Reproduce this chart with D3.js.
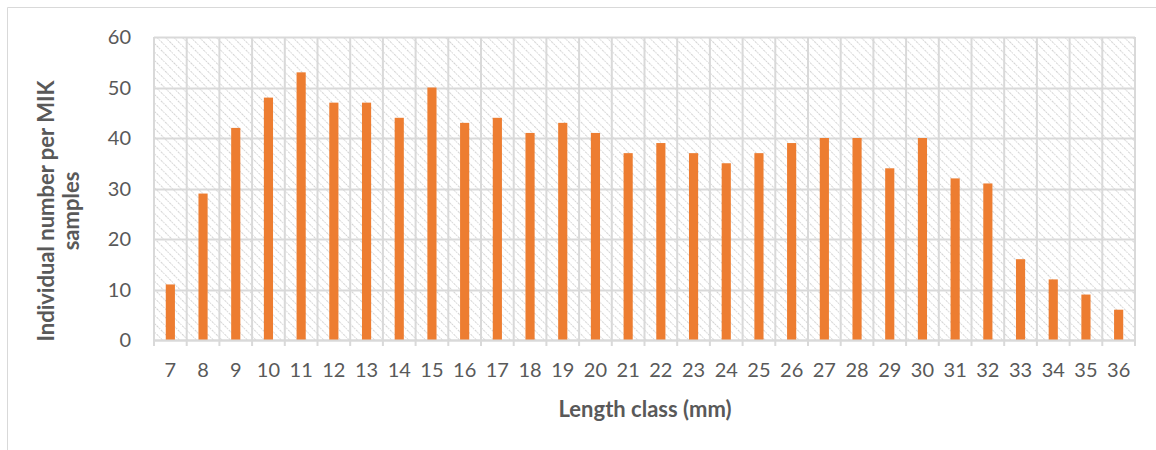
<!DOCTYPE html>
<html><head><meta charset="utf-8">
<script src="https://cdn.jsdelivr.net/npm/d3@7"></script>
<style>body{margin:0;background:#fff;} svg{display:block;}</style>
</head><body>
<script>
const categories = ["7","8","9","10","11","12","13","14","15","16","17","18","19","20","21","22","23","24","25","26","27","28","29","30","31","32","33","34","35","36"];
const values = [11,29,42,48,53,47,47,44,50,43,44,41,43,41,37,39,37,35,37,39,40,40,34,40,32,31,16,12,9,6];
const yTicks = [0,10,20,30,40,50,60];
const yTitle = ["Individual number per MIK", "samples"];
const xTitle = "Length class (mm)";

const W = 1156, H = 450;
const svg = d3.select("body").append("svg").attr("width", W).attr("height", H);
const font = "Lato, 'Open Sans', sans-serif";

// chart border
svg.append("path").attr("d", `M7.5,${H} V7.5 H${W}`).attr("fill","none").attr("stroke","#d9d9d9").attr("stroke-width",1);

const L = 154, R = 1135, T = 37, B = 340;
const x = d3.scaleBand().domain(categories).range([L, R]).paddingInner(0.72).paddingOuter(0.36);
const y = d3.scaleLinear().domain([0, 60]).range([B, T]);

const defs = svg.append("defs");
const pat = defs.append("pattern").attr("id","hatch").attr("patternUnits","userSpaceOnUse")
  .attr("width",6).attr("height",6).attr("patternTransform","rotate(-45)");
pat.append("rect").attr("width",6).attr("height",6).attr("fill","#fff");
pat.append("line").attr("x1",0).attr("y1",0).attr("x2",0).attr("y2",6)
  .attr("stroke","#d4d4d4").attr("stroke-width",2).attr("stroke-dasharray","1.5,1");

svg.append("rect").attr("x",L).attr("y",T).attr("width",R-L).attr("height",B-T).attr("fill","url(#hatch)");

// horizontal gridlines
svg.append("g").selectAll("line").data(yTicks).join("line")
  .attr("x1",L).attr("x2",R).attr("y1",d=>Math.round(y(d))+0.5).attr("y2",d=>Math.round(y(d))+0.5)
  .attr("stroke","#d9d9d9").attr("stroke-width",2);

// vertical gridlines between categories
const vb = d3.range(categories.length+1).map(i => L + i*(R-L)/categories.length);
svg.append("g").selectAll("line").data(vb).join("line")
  .attr("x1",d=>d).attr("x2",d=>d).attr("y1",T).attr("y2",B+6)
  .attr("stroke","#d9d9d9").attr("stroke-width",2);

// bars
svg.append("g").selectAll("rect").data(values).join("rect")
  .attr("x",(d,i)=>x(categories[i])).attr("width",x.bandwidth())
  .attr("y",d=>y(d)).attr("height",d=>B-y(d)).attr("fill","#ed7d31");

// x axis line
svg.append("line").attr("x1",L).attr("x2",R).attr("y1",B+0.5).attr("y2",B+0.5).attr("stroke","#d9d9d9").attr("stroke-width",2);

// y tick labels
svg.append("g").selectAll("text").data(yTicks).join("text")
  .attr("x",131).attr("y",d=>y(d)).attr("dy","0.35em").attr("text-anchor","end")
  .attr("font-family",font).attr("font-size",20).attr("fill","#595959").text(d=>d);

// x tick labels
svg.append("g").selectAll("text").data(categories).join("text")
  .attr("x",d=>x(d)+x.bandwidth()/2).attr("y",370).attr("dy","0.35em").attr("text-anchor","middle")
  .attr("font-family",font).attr("font-size",20).attr("fill","#595959").text(d=>d);

// titles
svg.append("text").attr("x",645).attr("y",409).attr("dy","0.35em").attr("text-anchor","middle")
  .attr("font-family",font).attr("font-size",22).attr("font-weight","bold").attr("fill","#595959").text(xTitle);

const yt = svg.append("text").attr("transform",`translate(46,211) rotate(-90)`)
  .attr("text-anchor","middle").attr("font-family",font).attr("font-size",22).attr("font-weight","bold").attr("fill","#595959");
yt.selectAll("tspan").data(yTitle).join("tspan").attr("x",0).attr("dy",(d,i)=>i===0?"0.35em":"1.15em").text(d=>d);
</script>
</body></html>
